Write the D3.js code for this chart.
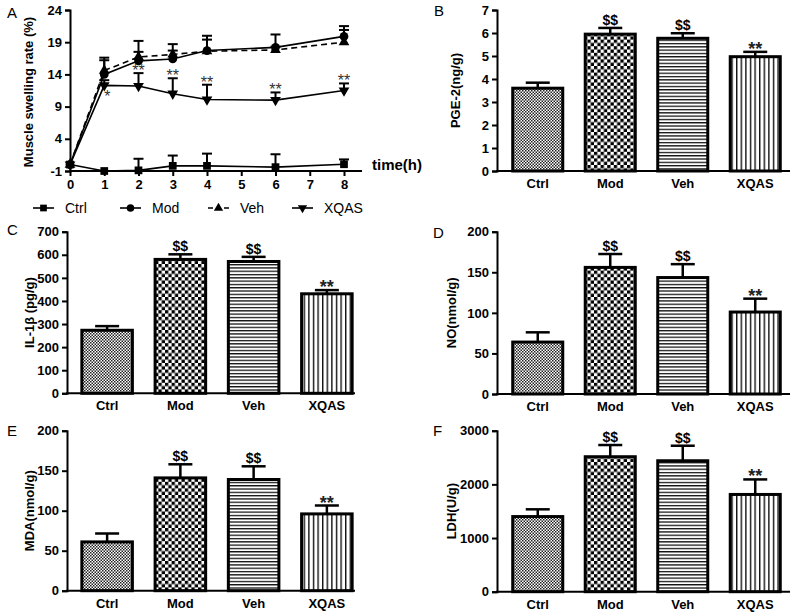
<!DOCTYPE html>
<html><head><meta charset="utf-8">
<script src="https://cdn.jsdelivr.net/npm/d3@7"></script>
<style>
body{margin:0;background:#fff;}
svg text{font-family:"Liberation Sans",Arial,sans-serif;fill:#000;}
</style></head>
<body><svg id="c" width="796" height="615"></svg>
<script>
// ---------- Panel A data ----------
const timePoints = [0, 1, 2, 3, 4, 6, 8];
const timeTicks = [0, 1, 2, 3, 4, 5, 6, 7, 8];
const swellTicks = [-1, 4, 9, 14, 19, 24];
const ctrlMean = [0, -1, -0.9, -0.2, -0.2, -0.4, 0.05];
const ctrlErr  = [0, 0, 1.8, 1.6, 1.9, 2.0, 0.75];
const modMean  = [0, 14.0, 16.1, 16.4, 17.7, 18.2, 19.9];
const modErr   = [0, 2.6, 3.1, 2.3, 2.3, 2.0, 1.6];
const vehMean  = [0, 14.6, 16.7, 17.1, 17.6, 17.8, 19.0];
const vehErr   = [0, 1.6, 0.8, 0.6, 1.8, 0.5, 1.9];
const xqasMean = [0, 12.3, 12.2, 11.0, 10.1, 10.0, 11.5];
const xqasErr  = [0, 0.8, 2.0, 2.4, 2.3, 1.2, 1.1];
const xqasStars = ["", "*", "**", "**", "**", "**", "**"];
const seriesNames = ["Ctrl", "Mod", "Veh", "XQAS"];

// ---------- Bar panels data ----------
const groups = ["Ctrl", "Mod", "Veh", "XQAS"];
const groupMarks = ["", "$$", "$$", "**"];
const pgeMean = [3.6, 5.95, 5.77, 4.97];
const pgeErr  = [0.24, 0.27, 0.22, 0.21];
const pgeTicks = [0, 1, 2, 3, 4, 5, 6, 7];
const il1bMean = [273, 580, 571, 431];
const il1bErr  = [18, 22, 20, 16];
const il1bTicks = [0, 100, 200, 300, 400, 500, 600, 700];
const noMean = [64, 156, 143.5, 101];
const noErr  = [12, 16.5, 16.5, 16.5];
const noTicks = [0, 50, 100, 150, 200];
const mdaMean = [61, 141, 139, 96];
const mdaErr  = [10.5, 17, 16.5, 10.5];
const mdaTicks = [0, 50, 100, 150, 200];
const ldhMean = [1400, 2515, 2440, 1812];
const ldhErr  = [135, 218, 280, 280];
const ldhTicks = [0, 1000, 2000, 3000];

const svg = d3.select("#c");
const plainFmt = d => String(d);

// ---------- patterns ----------
const defs = svg.append("defs");
let p = defs.append("pattern").attr("id","pCtrl").attr("patternUnits","userSpaceOnUse").attr("width",3).attr("height",3);
p.append("rect").attr("width",3).attr("height",3).attr("fill","#fff");
p.append("rect").attr("width",1.5).attr("height",1.5).attr("fill","#222");
p.append("rect").attr("x",1.5).attr("y",1.5).attr("width",1.5).attr("height",1.5).attr("fill","#222");
p = defs.append("pattern").attr("id","pMod").attr("patternUnits","userSpaceOnUse").attr("width",6.6).attr("height",6.6);
p.append("rect").attr("width",6.6).attr("height",6.6).attr("fill","#fff");
p.append("rect").attr("width",3.3).attr("height",3.3).attr("fill","#000");
p.append("rect").attr("x",3.3).attr("y",3.3).attr("width",3.3).attr("height",3.3).attr("fill","#000");
p = defs.append("pattern").attr("id","pVeh").attr("patternUnits","userSpaceOnUse").attr("width",4).attr("height",3.3);
p.append("rect").attr("width",4).attr("height",3.3).attr("fill","#fff");
p.append("rect").attr("y",0).attr("width",4).attr("height",1.3).attr("fill","#111");
p = defs.append("pattern").attr("id","pXqas").attr("patternUnits","userSpaceOnUse").attr("width",4.6).attr("height",4);
p.append("rect").attr("width",4.6).attr("height",4).attr("fill","#fff");
p.append("rect").attr("x",0).attr("width",1.4).attr("height",4).attr("fill","#111");
const fills = ["url(#pCtrl)","url(#pMod)","url(#pVeh)","url(#pXqas)"];

function panelLetter(t, x, y){
  svg.append("text").attr("x",x).attr("y",y).attr("font-size",15).text(t);
}
function yLabel(t, x, y){
  svg.append("text").attr("transform",`translate(${x},${y}) rotate(-90)`)
    .attr("text-anchor","middle").attr("font-size",13).attr("font-weight","bold").text(t);
}
function styleAxis(g){
  g.selectAll("path.domain").attr("stroke","#000").attr("stroke-width",2);
  g.selectAll(".tick line").attr("stroke","#000").attr("stroke-width",2);
  g.selectAll(".tick text").attr("font-size",13).attr("font-weight","bold")
    .attr("font-family","Liberation Sans, Arial, sans-serif").attr("fill","#000");
}

// ---------- Panel A ----------
(function(){
  const x = d3.scaleLinear().domain([0, 8]).range([70, 344]);
  const y = d3.scaleLinear().domain([-1, 24]).range([171, 10]);
  const ax = svg.append("g").attr("transform","translate(0,171)")
    .call(d3.axisBottom(x).tickValues(timeTicks).tickFormat(plainFmt).tickSizeOuter(0).tickSize(5).tickPadding(4));
  ax.select("path.domain").attr("d","M70,0H362");
  styleAxis(ax);
  const ay = svg.append("g").attr("transform","translate(70,0)")
    .call(d3.axisLeft(y).tickValues(swellTicks).tickFormat(plainFmt).tickSizeOuter(0).tickSize(5).tickPadding(3));
  styleAxis(ay);
  svg.append("text").attr("x",372).attr("y",170).attr("font-size",15).attr("font-weight","bold").text("time(h)");
  yLabel("Muscle swelling rate (%)", 33, 92);
  panelLetter("A", 7, 18);

  const series = [
    {name:"Ctrl", m:ctrlMean, e:ctrlErr, sym:d3.symbolSquare, size:60, dash:null},
    {name:"Mod", m:modMean, e:modErr, sym:d3.symbolCircle, size:60, dash:null},
    {name:"Veh", m:vehMean, e:vehErr, sym:d3.symbolTriangle, size:50, dash:"6,4"},
    {name:"XQAS", m:xqasMean, e:xqasErr, sym:d3.symbolTriangle, size:50, dash:null, flip:true}
  ];
  const line = d3.line().x(d=>x(d[0])).y(d=>y(d[1]));
  series.forEach(s=>{
    const pts = timePoints.map((t,i)=>[t, s.m[i], s.e[i]]);
    const g = svg.append("g");
    pts.forEach(d=>{
      if (d[2] <= 0) return;
      g.append("line").attr("x1",x(d[0])).attr("x2",x(d[0])).attr("y1",y(d[1])).attr("y2",y(d[1]+d[2]))
        .attr("stroke","#000").attr("stroke-width",2);
      g.append("line").attr("x1",x(d[0])-5).attr("x2",x(d[0])+5).attr("y1",y(d[1]+d[2])).attr("y2",y(d[1]+d[2]))
        .attr("stroke","#000").attr("stroke-width",2);
    });
    g.append("path").attr("d",line(pts)).attr("fill","none").attr("stroke","#000").attr("stroke-width",1.6)
      .attr("stroke-dasharray",s.dash);
    pts.forEach(d=>{
      g.append("path").attr("d",d3.symbol(s.sym, s.size)())
        .attr("transform",`translate(${x(d[0])},${y(d[1])})${s.flip?" rotate(180)":""}`).attr("fill","#000");
    });
  });
  timePoints.forEach((t,i)=>{
    if (!xqasStars[i]) return;
    const below = (i === 1);
    const yy = below ? y(xqasMean[i]) + 17 : y(xqasMean[i] + xqasErr[i]) + 3;
    svg.append("text").attr("x",x(t)+(below?3:0)).attr("y",yy).attr("text-anchor","middle")
      .attr("font-size",16).style("fill","#333").text(xqasStars[i]);
  });
  const legX = [33, 120, 208, 292];
  series.forEach((s,i)=>{
    const lg = svg.append("g").attr("transform",`translate(${legX[i]},208)`);
    lg.append("line").attr("x1",0).attr("x2",21).attr("y1",0).attr("y2",0).attr("stroke","#000")
      .attr("stroke-width",1.6).attr("stroke-dasharray",s.dash?"5,3":null);
    lg.append("path").attr("d",d3.symbol(s.sym, s.size*0.75)()).attr("transform",`translate(10.5,0)${s.flip?" rotate(180)":""}`);
    lg.append("text").attr("x",32).attr("y",5).attr("font-size",14).text(seriesNames[i]);
  });
})();

// ---------- Bar panels ----------
function barPanel(cfg){
  const y = d3.scaleLinear().domain([0, cfg.ticks[cfg.ticks.length-1]]).range([cfg.yBottom, cfg.yTop]);
  const x = d3.scaleBand().domain(groups).range(cfg.band).paddingInner(0.31).paddingOuter(0.155);
  const g = svg.append("g");
  groups.forEach((k,i)=>{
    const cx = x(k) + x.bandwidth()/2;
    const top = y(cfg.mean[i] + cfg.err[i]);
    g.append("line").attr("x1",cx).attr("x2",cx).attr("y1",y(cfg.mean[i])).attr("y2",top)
      .attr("stroke","#000").attr("stroke-width",2.5);
    g.append("line").attr("x1",cx-12).attr("x2",cx+12).attr("y1",top).attr("y2",top)
      .attr("stroke","#000").attr("stroke-width",2.5);
    g.append("rect").attr("x",x(k)).attr("y",y(cfg.mean[i])).attr("width",x.bandwidth())
      .attr("height",cfg.yBottom - y(cfg.mean[i])).attr("fill",fills[i]).attr("stroke","#000").attr("stroke-width",3);
    if (groupMarks[i]) {
      const isStar = groupMarks[i] === "**";
      g.append("text").attr("x",cx).attr("y",top + (isStar ? 3 : -3)).attr("text-anchor","middle")
        .attr("font-size",isStar?18:14).attr("font-weight","bold").style("fill", isStar ? "#222" : "#000")
        .text(groupMarks[i]);
    }
  });
  const ay = svg.append("g").attr("transform",`translate(${cfg.axisX},0)`)
    .call(d3.axisLeft(y).tickValues(cfg.ticks).tickFormat(plainFmt).tickSizeOuter(0).tickSize(5).tickPadding(3));
  styleAxis(ay);
  svg.append("line").attr("x1",cfg.axisX-1).attr("x2",cfg.xEnd).attr("y1",cfg.yBottom).attr("y2",cfg.yBottom)
    .attr("stroke","#000").attr("stroke-width",2);
  groups.forEach(k=>{
    svg.append("text").attr("x",x(k)+x.bandwidth()/2).attr("y",cfg.yBottom+17).attr("text-anchor","middle")
      .attr("font-size",13).attr("font-weight","bold").text(k);
  });
  yLabel(cfg.label, cfg.labelX, (cfg.yTop+cfg.yBottom)/2);
  panelLetter(cfg.letter, cfg.letterX, cfg.letterY);
}

barPanel({mean:pgeMean, err:pgeErr, ticks:pgeTicks, axisX:497, yTop:10, yBottom:171, xEnd:790,
  band:[501.5,791.5], label:"PGE-2(ng/g)", labelX:460, letter:"B", letterX:434, letterY:16});
barPanel({mean:il1bMean, err:il1bErr, ticks:il1bTicks, axisX:67, yTop:231.7, yBottom:393.3, xEnd:355,
  band:[70.5,363.5], label:"IL-1β (pg/g)", labelX:34, letter:"C", letterX:7, letterY:235});
barPanel({mean:noMean, err:noErr, ticks:noTicks, axisX:497, yTop:231.7, yBottom:394, xEnd:790,
  band:[501.5,791.5], label:"NO(nmol/g)", labelX:456, letter:"D", letterX:433, letterY:238});
barPanel({mean:mdaMean, err:mdaErr, ticks:mdaTicks, axisX:67, yTop:430.7, yBottom:590.7, xEnd:355,
  band:[70.5,363.5], label:"MDA(nmol/g)", labelX:34, letter:"E", letterX:7, letterY:436});
barPanel({mean:ldhMean, err:ldhErr, ticks:ldhTicks, axisX:497, yTop:430.7, yBottom:591.7, xEnd:790,
  band:[501.5,791.5], label:"LDH(U/g)", labelX:456, letter:"F", letterX:433, letterY:436});
</script></body></html>
